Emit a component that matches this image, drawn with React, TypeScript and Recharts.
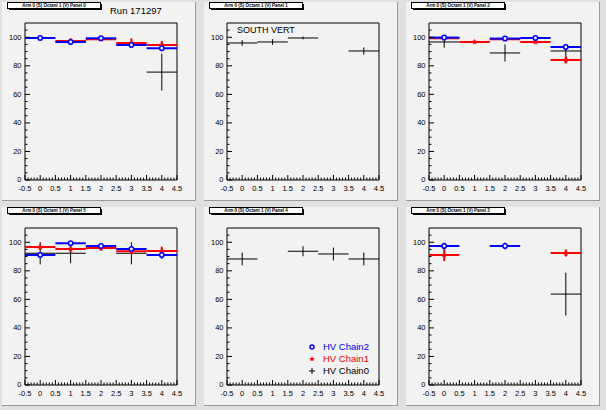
import { ScatterChart, Scatter, XAxis, YAxis, ErrorBar, ReferenceArea } from 'recharts';

// bin centres of the histograms and half bin width (x error)
const bins = [0, 1, 2, 3, 4];
const binHalfWidth = 0.5;

const panelTitles = [
    'Arm 0 (S) Octant 1 (V) Panel 0',
    'Arm 0 (S) Octant 1 (V) Panel 1',
    'Arm 0 (S) Octant 1 (V) Panel 2',
    'Arm 0 (S) Octant 1 (V) Panel 5',
    'Arm 0 (S) Octant 1 (V) Panel 4',
    'Arm 0 (S) Octant 1 (V) Panel 3',
];

// HV Chain 2 (blue)
const panel0Chain2 = [99.5, 96.7, 99.3, 94.6, 92.3];
const panel0Chain2Err = [1, 2, 1.2, 2, 2];
const panel2Chain2 = [99.8, null, 99.1, 99.5, 93.2];
const panel2Chain2Err = [1, null, 1, 1, 2];
const panel3Chain2 = [91.1, 99.3, 97.4, 95.3, 91.1];
const panel3Chain2Err = [2, 1, 1.5, 2, 2.5];
const panel5Chain2 = [97.4, null, 97.4, null, null];
const panel5Chain2Err = [2.3, null, 2.3, null, null];

// HV Chain 1 (red)
const panel0Chain1 = [null, 97.4, 98.6, 96.0, 94.6];
const panel0Chain1Err = [null, 1.9, 1, 3.2, 2.8];
const panel2Chain1 = [99.3, 96.7, 98.6, 96.7, 84.1];
const panel2Chain1Err = [1, 1, 1, 1, 2.5];
const panel3Chain1 = [96.7, 95.3, 96.0, 93.7, 93.9];
const panel3Chain1Err = [2, 2, 2, 2, 3];
const panel5Chain1 = [91.1, null, null, null, 92.5];
const panel5Chain1Err = [4.3, null, null, null, 2.5];

// HV Chain 0 (black)
const panel0Chain0 = [null, null, null, null, 75.6];
const panel0Chain0Err = [null, null, null, null, 12.9];
const panel1Chain0 = [96.0, 96.7, 99.5, null, 90.4];
const panel1Chain0Err = [2, 2, 1, null, 2.5];
const panel2Chain0 = [96.7, null, 89.0, null, 90.4];
const panel2Chain0Err = [4, null, 6, null, 5];
const panel3Chain0 = [92.3, 92.3, null, 92.3, null];
const panel3Chain0Err = [7.8, 7, null, 7.8, null];
const panel4Chain0 = [88.3, null, 93.7, 91.8, 88.3];
const panel4Chain0Err = [4.5, null, 3.5, 4.5, 4.5];
const panel5Chain0 = [null, null, null, null, 63.7];
const panel5Chain0Err = [null, null, null, null, 15];

const empty = [null, null, null, null, null];

const chain2Values = [panel0Chain2, empty, panel2Chain2, panel3Chain2, empty, panel5Chain2];
const chain2Errors = [panel0Chain2Err, empty, panel2Chain2Err, panel3Chain2Err, empty, panel5Chain2Err];
const chain1Values = [panel0Chain1, empty, panel2Chain1, panel3Chain1, empty, panel5Chain1];
const chain1Errors = [panel0Chain1Err, empty, panel2Chain1Err, panel3Chain1Err, empty, panel5Chain1Err];
const chain0Values = [panel0Chain0, panel1Chain0, panel2Chain0, panel3Chain0, panel4Chain0, panel5Chain0];
const chain0Errors = [panel0Chain0Err, panel1Chain0Err, panel2Chain0Err, panel3Chain0Err, panel4Chain0Err, panel5Chain0Err];

const xMajorTicks = [-0.5, 0, 0.5, 1, 1.5, 2, 2.5, 3, 3.5, 4, 4.5];
const yMajorTicks = [0, 20, 40, 60, 80, 100];
const yMinorTicks = [5, 10, 15, 25, 30, 35, 45, 50, 55, 65, 70, 75, 85, 90, 95, 105];

const xMinorTicks: number[] = [];
xMajorTicks.slice(0, -1).forEach((t) => {
    for (let k = 1; k < 5; k++) xMinorTicks.push(t + k * 0.1);
});

const legendItems = [
    { label: 'HV Chain2', color: '#0000ff', marker: 'circle' },
    { label: 'HV Chain1', color: '#ff0000', marker: 'star' },
    { label: 'HV Chain0', color: '#000000', marker: 'plus' },
];

const FONT = '"Liberation Sans", Arial, sans-serif';
const PAD_BG = '#f2f2f2';

function XTick(props: any) {
    const { x, y, payload } = props;
    const major = xMajorTicks.includes(payload.value);
    return (
        <g>
            <line x1={x} x2={x} y1={y} y2={y - (major ? 5 : 2.5)} stroke="#000" strokeWidth={1} />
            {major && (
                <text x={x} y={y + 10.5} textAnchor="middle" fontSize={7.5} fontFamily={FONT} fill="#000">
                    {String(payload.value)}
                </text>
            )}
        </g>
    );
}

function YTick(props: any) {
    const { x, y, payload } = props;
    const major = yMajorTicks.includes(payload.value);
    return (
        <g>
            <line x1={x} x2={x + (major ? 5 : 2.5)} y1={y} y2={y} stroke="#000" strokeWidth={1} />
            {major && (
                <text x={x - 3.5} y={y + 2.3} textAnchor="end" fontSize={7.5} fontFamily={FONT} fill="#000">
                    {String(payload.value)}
                </text>
            )}
        </g>
    );
}

function starPoints(cx: number, cy: number, r: number) {
    const pts: string[] = [];
    for (let i = 0; i < 10; i++) {
        const a = -Math.PI / 2 + (i * Math.PI) / 5;
        const rr = i % 2 === 0 ? r : r * 0.45;
        pts.push(`${cx + rr * Math.cos(a)},${cy + rr * Math.sin(a)}`);
    }
    return pts.join(' ');
}

function BlueCircle(props: any) {
    const { cx, cy } = props;
    return <circle cx={cx} cy={cy} r={2.2} fill={PAD_BG} stroke="#0000ff" strokeWidth={1.5} />;
}

function RedStar(props: any) {
    const { cx, cy } = props;
    return <polygon points={starPoints(cx, cy, 3.2)} fill="#ff0000" />;
}

function NoMarker() {
    return <g />;
}

function toPoints(values: (number | null)[], errors: (number | null)[]) {
    return bins
        .map((x, i) => (values[i] == null ? null : { x, y: values[i], ex: binHalfWidth, ey: errors[i] }))
        .filter(Boolean) as { x: number; y: number; ex: number; ey: number }[];
}

function Panel({ index }: { index: number }) {
    const series = [
        { name: 'HV Chain0', color: '#000000', lw: 1, shape: NoMarker, data: toPoints(chain0Values[index], chain0Errors[index]) },
        { name: 'HV Chain1', color: '#ff0000', lw: 2, shape: RedStar, data: toPoints(chain1Values[index], chain1Errors[index]) },
        { name: 'HV Chain2', color: '#0000ff', lw: 2, shape: BlueCircle, data: toPoints(chain2Values[index], chain2Errors[index]) },
    ].filter((s) => s.data.length > 0);

    const col = index % 3;
    const row = Math.floor(index / 3);

    return (
        <div style={{ position: 'absolute', left: col * 202, top: row * 205, width: 202, height: 205 }}>
            <div
                style={{
                    position: 'absolute',
                    left: 2,
                    top: 2,
                    width: 193,
                    height: 198,
                    background: PAD_BG,
                    borderRight: '1px solid #9a9a9a',
                    borderBottom: '1px solid #9a9a9a',
                }}
            />
            <div style={{ position: 'absolute', left: 0, top: 0 }}>
                <ScatterChart width={202} height={205} margin={{ top: 23, right: 25, left: 0, bottom: 0 }}>
                    <XAxis
                        type="number"
                        dataKey="x"
                        domain={[-0.5, 4.5]}
                        allowDataOverflow
                        ticks={[...xMajorTicks, ...xMinorTicks].sort((a, b) => a - b)}
                        interval={0}
                        height={25}
                        axisLine={false}
                        tickLine={false}
                        tickSize={0}
                        tickMargin={0}
                        tick={<XTick />}
                    />
                    <YAxis
                        type="number"
                        dataKey="y"
                        domain={[0, 110]}
                        allowDataOverflow
                        ticks={[...yMajorTicks, ...yMinorTicks].sort((a, b) => a - b)}
                        interval={0}
                        width={25}
                        axisLine={false}
                        tickLine={false}
                        tickSize={0}
                        tickMargin={0}
                        tick={<YTick />}
                    />
                    <ReferenceArea x1={-0.5} x2={4.5} y1={0} y2={110} fill="none" stroke="#000" strokeWidth={1} />
                    {series.map((s) => (
                        <Scatter key={s.name} name={s.name} data={s.data} shape={s.shape} isAnimationActive={false}>
                            <ErrorBar dataKey="ex" direction="x" width={0} stroke={s.color} strokeWidth={s.lw} />
                            <ErrorBar dataKey="ey" direction="y" width={0} stroke={s.color} strokeWidth={s.lw} />
                        </Scatter>
                    ))}
                </ScatterChart>
            </div>
            <svg width={202} height={205} style={{ position: 'absolute', left: 0, top: 0, pointerEvents: 'none' }}>
                <rect x={9} y={4} width={93} height={6} fill="#000" />
                <rect x={7.5} y={2.5} width={93} height={6} fill="#fff" stroke="#000" strokeWidth={1} />
                <text x={54} y={7.3} textAnchor="middle" fontSize={4.5} fontWeight="bold" fontFamily={FONT} fill="#000">
                    {panelTitles[index]}
                </text>
                {index === 0 && (
                    <text x={110} y={13.5} fontSize={9.5} fontFamily={FONT} fill="#000">
                        Run 171297
                    </text>
                )}
                {index === 1 && (
                    <text x={35} y={32.5} fontSize={9} fontFamily={FONT} fill="#000">
                        SOUTH VERT
                    </text>
                )}
                {index === 4 &&
                    legendItems.map((item, i) => {
                        const cy = 142 + i * 12;
                        const cx = 110;
                        return (
                            <g key={item.label}>
                                {item.marker === 'circle' && (
                                    <circle cx={cx} cy={cy} r={2} fill={PAD_BG} stroke={item.color} strokeWidth={1.5} />
                                )}
                                {item.marker === 'star' && <polygon points={starPoints(cx, cy, 3)} fill={item.color} />}
                                {item.marker === 'plus' && (
                                    <path d={`M${cx - 3},${cy}H${cx + 3}M${cx},${cy - 3}V${cy + 3}`} stroke={item.color} strokeWidth={1} />
                                )}
                                <text x={121} y={cy + 3.4} fontSize={9.5} fontFamily={FONT} fill={item.color}>
                                    {item.label}
                                </text>
                            </g>
                        );
                    })}
            </svg>
        </div>
    );
}

export default function App() {
    return (
        <div style={{ position: 'relative', width: 606, height: 410, background: '#e0e0e0', overflow: 'hidden' }}>
            <style>{'body{margin:0}'}</style>
            {[0, 1, 2, 3, 4, 5].map((i) => (
                <Panel key={i} index={i} />
            ))}
        </div>
    );
}
